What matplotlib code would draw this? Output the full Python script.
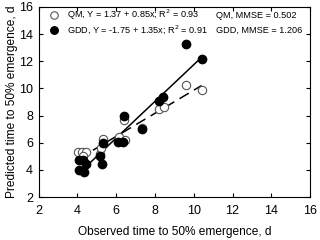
import numpy as np
import matplotlib
matplotlib.use("Agg")
import matplotlib.pyplot as plt

plt.rcParams['font.family'] = ['Liberation Sans', 'DejaVu Sans']

# observed vs predicted time to 50% emergence (d)
qm_obs = [4.05, 4.25, 4.45, 4.3, 5.15, 5.2, 5.3, 6.15, 6.45, 6.4, 7.35, 8.2, 8.45, 9.6, 10.4]
qm_pred = [5.35, 5.35, 5.35, 5.0, 5.2, 5.6, 6.3, 6.45, 6.2, 7.7, 7.1, 8.45, 8.6, 10.25, 9.85]

gdd_obs = [4.1, 4.35, 4.1, 4.3, 4.45, 5.15, 5.25, 5.3, 6.1, 6.35, 6.4, 7.35, 8.2, 8.4, 9.6, 10.4]
gdd_pred = [4.0, 3.85, 4.7, 4.7, 4.45, 5.05, 4.45, 5.95, 6.05, 6.05, 7.95, 6.98, 9.1, 9.35, 13.25, 12.2]

# regression coefficients (intercept, slope)
qm_fit = (1.37, 0.85)
gdd_fit = (-1.75, 1.35)

fig = plt.figure(figsize=(3.2, 2.4), dpi=100)
ax = fig.add_axes([0.121, 0.179, 0.848, 0.792])

xq = np.array([min(qm_obs), max(qm_obs)])
ax.plot(xq, qm_fit[0] + qm_fit[1] * xq, color='black', lw=1.1, dashes=(7, 4))
xg = np.array([min(gdd_obs), max(gdd_obs)])
ax.plot(xg, gdd_fit[0] + gdd_fit[1] * xg, color='black', lw=1.1)

ax.plot(qm_obs, qm_pred, 'o', ms=6, mfc='white', mec='#555555', mew=0.8,
        label='QM, Y = 1.37 + 0.85x; R$^2$ = 0.93')
ax.plot(gdd_obs, gdd_pred, 'o', ms=6, mfc='black', mec='black',
        label='GDD, Y = -1.75 + 1.35x; R$^2$ = 0.91')

ax.set_xlim(2, 16)
ax.set_ylim(2, 16)
ax.set_xticks(range(2, 17, 2))
ax.set_yticks(range(2, 17, 2))
ax.tick_params(direction='in', top=True, right=True, length=3, labelsize=9)
ax.tick_params(axis='x', pad=6)
ax.tick_params(axis='y', pad=4)

ax.set_xlabel('Observed time to 50% emergence, d', fontsize=8.6, labelpad=6)
ax.set_ylabel('Predicted time to 50% emergence, d', fontsize=8.6, labelpad=1)

ax.legend(loc='upper left', bbox_to_anchor=(0.025, 1.012), frameon=False,
          fontsize=6.6, handletextpad=0.7, borderaxespad=0.0, borderpad=0.3,
          labelspacing=0.2, handlelength=1.3, markerscale=0.9)

ax.text(0.655, 0.953, 'QM, MMSE = 0.502', transform=ax.transAxes, fontsize=6.6, va='center')
ax.text(0.655, 0.879, 'GDD, MMSE = 1.206', transform=ax.transAxes, fontsize=6.6, va='center')

fig.savefig('out.png', dpi=100)
